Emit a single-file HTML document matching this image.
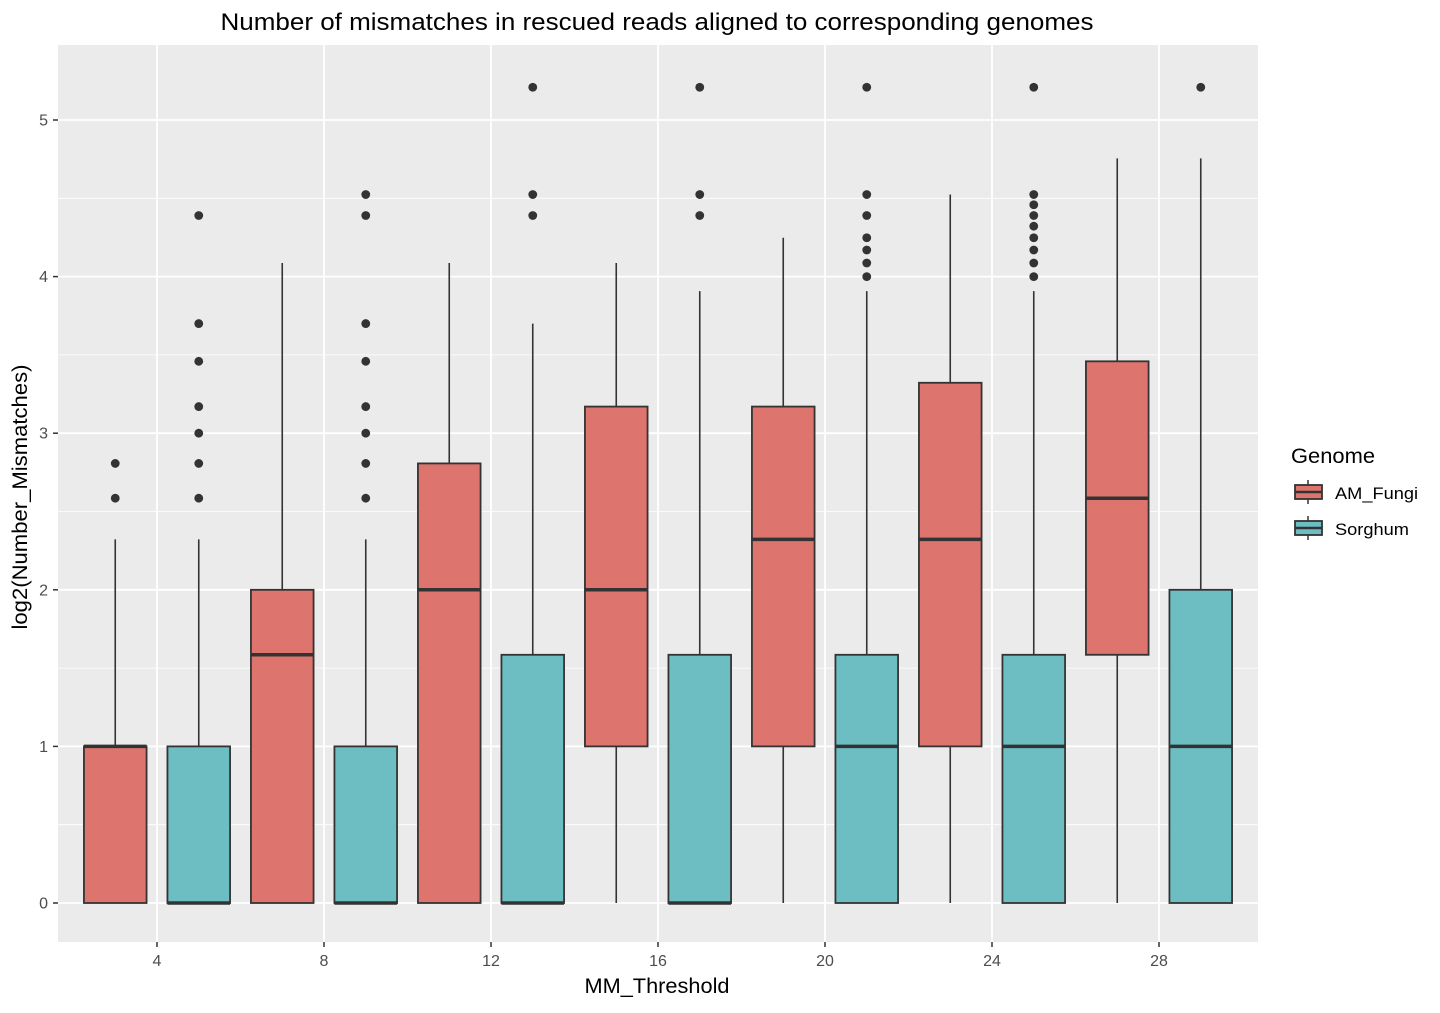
<!DOCTYPE html>
<html><head><meta charset="utf-8"><style>
body{margin:0;background:#fff;font-family:"Liberation Sans",sans-serif}
</style></head><body>
<svg id="chart" width="1440" height="1008" xmlns="http://www.w3.org/2000/svg">
<rect x="58" y="45" width="1200" height="897" fill="#ebebeb"/>
<g id="grid"></g><g id="boxes"></g><g id="axes"></g>
<text x="657" y="30" text-anchor="middle" font-size="24" textLength="873" lengthAdjust="spacingAndGlyphs" fill="#000">Number of mismatches in rescued reads aligned to corresponding genomes</text>
<text x="657" y="993" text-anchor="middle" font-size="21" textLength="145" lengthAdjust="spacingAndGlyphs" fill="#000">MM_Threshold</text>
<text transform="translate(27,497) rotate(-90)" text-anchor="middle" font-size="21" textLength="265" lengthAdjust="spacingAndGlyphs" fill="#000">log2(Number_Mismatches)</text>
<g>
<text x="1291" y="463" font-size="21" textLength="84" lengthAdjust="spacingAndGlyphs" fill="#000">Genome</text>
<g>
<line x1="1308" y1="480" x2="1308" y2="504" stroke="#333" stroke-width="1.5"/>
<rect x="1295" y="485" width="27" height="14" fill="#dd746d" stroke="#333" stroke-width="1.8"/>
<line x1="1295" y1="492" x2="1322" y2="492" stroke="#333" stroke-width="2.5"/>
<text x="1335" y="499" font-size="17" textLength="83" lengthAdjust="spacingAndGlyphs" fill="#000">AM_Fungi</text></g>
<g>
<line x1="1308" y1="516" x2="1308" y2="540" stroke="#333" stroke-width="1.5"/>
<rect x="1295" y="521" width="27" height="14" fill="#6dbec3" stroke="#333" stroke-width="1.8"/>
<line x1="1295" y1="528" x2="1322" y2="528" stroke="#333" stroke-width="2.5"/>
<text x="1335" y="535" font-size="17" textLength="74" lengthAdjust="spacingAndGlyphs" fill="#000">Sorghum</text></g>
</g>
</svg>
<script>
const positions=[3,5,7,9,11,13,15,17,19,21,23,25,27,29];
const genomes=["AM_Fungi","Sorghum","AM_Fungi","Sorghum","AM_Fungi","Sorghum","AM_Fungi","Sorghum","AM_Fungi","Sorghum","AM_Fungi","Sorghum","AM_Fungi","Sorghum"];
const lowWhisker=[0,0,0,0,0,0,0,0,0,0,0,0,0,0];
const q1=[0,0,0,0,0,0,1,0,1,0,1,0,1.585,0];
const medians=[1,0,1.585,0,2,0,2,0,2.322,1,2.322,1,2.585,1];
const q3=[1,1,2,1,2.807,1.585,3.17,1.585,3.17,1.585,3.322,1.585,3.459,2];
const highWhisker=[2.322,2.322,4.087,2.322,4.087,3.70,4.087,3.907,4.248,3.907,4.524,3.907,4.755,4.755];
const outliers=[[2.585,2.807],[2.585,2.807,3,3.17,3.459,3.70,4.39],[],[2.585,2.807,3,3.17,3.459,3.70,4.39,4.524],[],[4.39,4.524,5.209],[],[4.39,4.524,5.209],[],[4,4.087,4.17,4.248,4.39,4.524,5.209],[],[4,4.087,4.17,4.248,4.322,4.39,4.459,4.524,5.209],[],[5.209]];
const xTicks=[4,8,12,16,20,24,28];
const yTicks=[0,1,2,3,4,5];
const colors={"AM_Fungi":"#dd746d","Sorghum":"#6dbec3"};
const NS="http://www.w3.org/2000/svg";
const X=v=>157+(v-4)*41.75;
const Y=v=>903-v*156.6;
function mk(tag,at,parent){const e=document.createElementNS(NS,tag);for(const k in at)e.setAttribute(k,at[k]);parent.appendChild(e);return e;}
const grid=document.getElementById('grid'),boxes=document.getElementById('boxes'),axes=document.getElementById('axes');
for(let v=-0.5;v<=5.5;v+=1){const y=Y(v);if(y<45||y>942)continue;const l=mk('line',{x1:58,x2:1258,y1:y,y2:y,stroke:'#fff','stroke-width':0.8},grid);

}
yTicks.forEach(v=>{const y=Y(v);const l=mk('line',{x1:58,x2:1258,y1:y,y2:y,stroke:'#fff','stroke-width':1.8},grid);


mk('line',{x1:53,x2:58,y1:y,y2:y,stroke:'#333','stroke-width':1.5},axes);
const t=mk('text',{x:48,y:y+5.5,'text-anchor':'end','font-size':16,fill:'#4d4d4d'},axes);t.textContent=v;

});
xTicks.forEach(v=>{const x=X(v);const l=mk('line',{x1:x,x2:x,y1:45,y2:942,stroke:'#fff','stroke-width':1.8},grid);


mk('line',{x1:x,x2:x,y1:942,y2:947,stroke:'#333','stroke-width':1.5},axes);
const t=mk('text',{x:x,y:966,'text-anchor':'middle','font-size':16,fill:'#4d4d4d'},axes);t.textContent=v;

});
const hw=0.75*41.75;
positions.forEach((p,i)=>{const cx=X(p);const g=mk('g',{},boxes);


mk('line',{x1:cx,x2:cx,y1:Y(highWhisker[i]),y2:Y(q3[i]),stroke:'#333','stroke-width':1.6},g);
mk('line',{x1:cx,x2:cx,y1:Y(q1[i]),y2:Y(lowWhisker[i]),stroke:'#333','stroke-width':1.6},g);
mk('rect',{x:cx-hw,y:Y(q3[i]),width:2*hw,height:Math.max(Y(q1[i])-Y(q3[i]),0.01),fill:colors[genomes[i]],stroke:'#333','stroke-width':1.8},g);
mk('line',{x1:cx-hw,x2:cx+hw,y1:Y(medians[i]),y2:Y(medians[i]),stroke:'#333','stroke-width':3.5},g);
outliers[i].forEach(o=>{const c=mk('circle',{cx:cx,cy:Y(o),r:4.4,fill:'#333'},g);

});
});
</script>
</body></html>
